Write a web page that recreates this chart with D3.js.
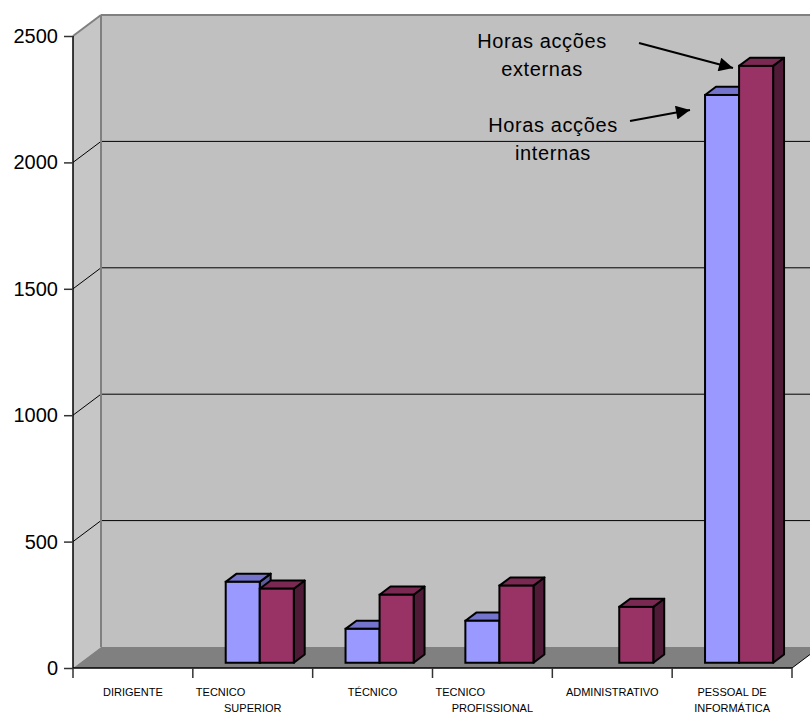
<!DOCTYPE html>
<html>
<head>
<meta charset="utf-8">
<script src="https://cdn.jsdelivr.net/npm/d3@7"></script>
<style>
  html, body { margin: 0; padding: 0; background: #fff; }
  svg { display: block; font-family: "Liberation Sans", Arial, sans-serif; }
</style>
</head>
<body>
<svg id="chart" width="810" height="713"></svg>
<script>
// Training hours per staff group: internal vs external courses
const categories = ["DIRIGENTE", "TECNICO SUPERIOR", "TÉCNICO", "TECNICO PROFISSIONAL", "ADMINISTRATIVO", "PESSOAL DE INFORMÁTICA"];
const categoryLines = [["DIRIGENTE"], ["TECNICO", "SUPERIOR"], ["TÉCNICO"], ["TECNICO", "PROFISSIONAL"], ["ADMINISTRATIVO"], ["PESSOAL DE", "INFORMÁTICA"]];
const seriesNames = ["Horas acções internas", "Horas acções externas"];
const internas = [0, 320, 134, 166, 0, 2246];
const externas = [0, 293, 269, 305, 221, 2361];
const yTicks = [0, 500, 1000, 1500, 2000, 2500];

const svg = d3.select("#chart");

// Front plane of the 3D box and its depth offset
const plotLeft = 73, plotRight = 792, plotBottom = 668, plotTop = 36;
const DX = 28, DY = -21;

const x = d3.scaleBand().domain(categories).range([plotLeft, plotRight]).paddingInner(0).paddingOuter(0);
const y = d3.scaleLinear().domain([0, 2500]).range([plotBottom, plotTop]);
const xs = d3.scaleBand().domain(seriesNames).range([0, x.bandwidth()]).paddingInner(0).paddingOuter(0.76);

const colors = {
  "Horas acções internas": { front: "#9999FF", top: "#7474CC", side: "#5C5C99" },
  "Horas acções externas": { front: "#993366", top: "#7A2952", side: "#4F1A35" }
};

// Walls and floor
const wall = "#C0C0C0";
svg.append("rect").attr("x", plotLeft + DX).attr("y", y(2500) + DY)
  .attr("width", 830 - (plotLeft + DX)).attr("height", y(0) - y(2500)).attr("fill", wall);
svg.append("polygon")
  .attr("points", [[plotLeft, y(2500)], [plotLeft + DX, y(2500) + DY], [plotLeft + DX, y(0) + DY], [plotLeft, y(0)]].join(" "))
  .attr("fill", "#C6C6C6");
svg.append("polygon")
  .attr("points", [[plotLeft, y(0)], [plotRight, y(0)], [plotRight + DX, y(0) + DY], [plotLeft + DX, y(0) + DY]].join(" "))
  .attr("fill", "#808080");

// Gridlines across side wall and back wall
const grid = yTicks.filter(v => v > 0 && v < 2500);
svg.append("g").selectAll("line").data(grid).join("line")
  .attr("x1", plotLeft).attr("y1", d => y(d)).attr("x2", plotLeft + DX).attr("y2", d => y(d) + DY)
  .attr("stroke", "#000").attr("stroke-width", 1);
svg.append("g").selectAll("line").data(grid).join("line")
  .attr("x1", plotLeft + DX).attr("y1", d => y(d) + DY).attr("x2", 830).attr("y2", d => y(d) + DY)
  .attr("stroke", "#000").attr("stroke-width", 1);

// Box edges
const edge = "#808080";
svg.append("line").attr("x1", plotLeft + DX).attr("y1", y(2500) + DY).attr("x2", 830).attr("y2", y(2500) + DY)
  .attr("stroke", edge).attr("stroke-width", 2);
svg.append("line").attr("x1", plotLeft + DX).attr("y1", y(2500) + DY).attr("x2", plotLeft + DX).attr("y2", y(0) + DY)
  .attr("stroke", edge).attr("stroke-width", 2);
svg.append("line").attr("x1", plotLeft).attr("y1", y(2500)).attr("x2", plotLeft + DX).attr("y2", y(2500) + DY)
  .attr("stroke", edge).attr("stroke-width", 2);
svg.append("line").attr("x1", plotRight).attr("y1", y(0)).attr("x2", plotRight + DX).attr("y2", y(0) + DY)
  .attr("stroke", "#000").attr("stroke-width", 1);

// 3D bars
const f0 = 0.25, f1 = 0.64;
const bx = f0 * DX, by = f0 * DY;
const ddx = (f1 - f0) * DX, ddy = (f1 - f0) * DY;

const barData = [];
categories.forEach((c, i) => {
  [[seriesNames[0], internas[i]], [seriesNames[1], externas[i]]].forEach(([s, v]) => {
    if (v > 0) barData.push({ c, s, v });
  });
});

const bars = svg.append("g").selectAll("g").data(barData).join("g");
bars.each(function (d) {
  const g = d3.select(this);
  const x0 = x(d.c) + xs(d.s) + bx, x1 = x0 + xs.bandwidth();
  const yt = y(d.v) + by, yb = y(0) + by;
  const col = colors[d.s];
  g.append("polygon")
    .attr("points", [[x1, yt], [x1 + ddx, yt + ddy], [x1 + ddx, yb + ddy], [x1, yb]].join(" "))
    .attr("fill", col.side).attr("stroke", "#000").attr("stroke-width", 2).attr("stroke-linejoin", "round");
  g.append("polygon")
    .attr("points", [[x0, yt], [x1, yt], [x1 + ddx, yt + ddy], [x0 + ddx, yt + ddy]].join(" "))
    .attr("fill", col.top).attr("stroke", "#000").attr("stroke-width", 2).attr("stroke-linejoin", "round");
  g.append("rect").attr("x", x0).attr("y", yt).attr("width", x1 - x0).attr("height", yb - yt)
    .attr("fill", col.front).attr("stroke", "#000").attr("stroke-width", 2);
});

// Value axis
const yAxis = svg.append("g").attr("transform", `translate(${plotLeft},0)`)
  .call(d3.axisLeft(y).tickValues(yTicks).tickSize(9).tickPadding(6).tickFormat(d3.format("d")));
yAxis.select(".domain").attr("stroke", "#000").attr("stroke-width", 1.5).attr("d", `M0,${y(2500)}V${y(0)}`);
yAxis.selectAll(".tick line").attr("stroke", "#333").attr("stroke-width", 1.5);
yAxis.selectAll(".tick text").attr("font-size", 20).attr("fill", "#000")
  .attr("font-family", "'Liberation Sans', Arial, sans-serif");

// Category axis
const xAxis = svg.append("g").attr("transform", `translate(0,${plotBottom})`)
  .call(d3.axisBottom(x).tickSize(0).tickFormat(""));
xAxis.select(".domain").attr("stroke", "#000").attr("stroke-width", 1.5).attr("d", `M${plotLeft},0H${plotRight}`);
const boundaries = categories.map(c => x(c)).concat([x.range()[1]]);
xAxis.selectAll("line.cat-tick").data(boundaries).join("line").attr("class", "cat-tick")
  .attr("x1", d => d).attr("x2", d => d).attr("y1", 0).attr("y2", 10)
  .attr("stroke", "#333").attr("stroke-width", 1.5);

const labels = svg.append("g").attr("font-size", 11).attr("fill", "#000");
categories.forEach((c, i) => {
  const lines = categoryLines[i];
  const cx = x(c) + x.bandwidth() / 2;
  lines.forEach((ln, j) => {
    // "TECNICO ..." labels break with the first word flush to the band's left edge
    const flush = lines.length === 2 && ln === "TECNICO";
    labels.append("text")
      .attr("x", flush ? x(c) + 3 : cx)
      .attr("y", 696 + j * 15.5)
      .attr("text-anchor", flush ? "start" : "middle")
      .text(ln);
  });
});

// Series call-outs
const defs = svg.append("defs");
defs.append("marker").attr("id", "arrow").attr("viewBox", "0 0 10 10")
  .attr("refX", 10).attr("refY", 5).attr("markerWidth", 8).attr("markerHeight", 7)
  .attr("markerUnits", "strokeWidth").attr("orient", "auto")
  .append("path").attr("d", "M0,0L10,5L0,10Z").attr("fill", "#000");

const callouts = [
  { lines: ["Horas acções", "externas"], cx: 542, by: 48, from: [639, 43], to: [733, 68] },
  { lines: ["Horas acções", "internas"], cx: 553, by: 132, from: [630, 121], to: [690, 110] }
];
callouts.forEach(co => {
  co.lines.forEach((ln, j) => {
    svg.append("text").attr("x", co.cx).attr("y", co.by + j * 27.5)
      .attr("text-anchor", "middle").attr("font-size", 20).attr("letter-spacing", 0.6)
      .attr("fill", "#000").text(ln);
  });
  svg.append("line").attr("x1", co.from[0]).attr("y1", co.from[1]).attr("x2", co.to[0]).attr("y2", co.to[1])
    .attr("stroke", "#000").attr("stroke-width", 2).attr("marker-end", "url(#arrow)");
});
</script>
</body>
</html>
